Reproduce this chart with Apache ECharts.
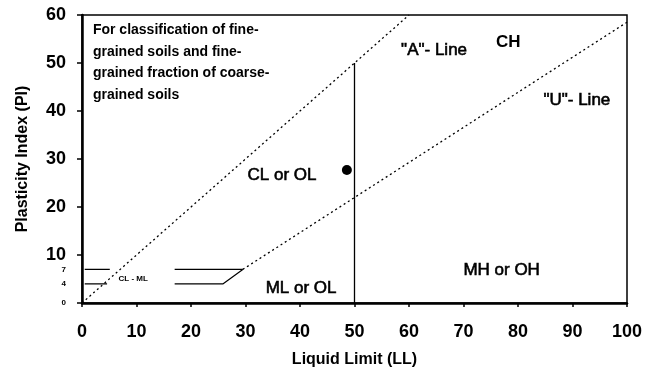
<!DOCTYPE html>
<html>
<head>
<meta charset="utf-8">
<script src="https://cdn.jsdelivr.net/npm/echarts@6/dist/echarts.min.js"></script>
<style>
  html, body { margin: 0; padding: 0; background: #fff; }
  #chart { width: 651px; height: 385px; }
</style>
</head>
<body>
<div id="chart"></div>
<script>
// plasticity chart - lines
var aLine = [[0, 0], [60, 60]];
var uLine = [[29.5, 7], [100, 58.5]];
var llBoundary = [[50, 0], [50, 50]];
var clmlSegments = [
  [[0.5, 7], [5.1, 7]],
  [[0.5, 4], [4.6, 4]],
  [[17, 7], [29.5, 7]],
  [[17, 4], [25.9, 4], [29.5, 7]]
];
var points = [[48.6, 27.7]];
var yTickLabels = [0, 4, 7, 10, 20, 30, 40, 50, 60];
var zoneLabels = [
  [2, 50.1, 'For classification of fine-\ngrained soils and fine-\ngrained fraction of coarse-\ngrained soils', 'note'],
  [64.6, 52.7, '"A"- Line', 'big'],
  [78.2, 54.4, 'CH', 'bold'],
  [90.8, 42.3, '"U"- Line', 'big'],
  [36.7, 26.7, 'CL or OL', 'big'],
  [40.2, 3.1, 'ML or OL', 'big'],
  [77, 6.9, 'MH or OH', 'big'],
  [9.4, 5.0, 'CL - ML', 'tiny']
];

var FONT = '"Liberation Sans", Arial, sans-serif';
var chart = echarts.init(document.getElementById('chart'));

var series = [
  {
    type: 'line', data: aLine, symbol: 'none', silent: true,
    lineStyle: { color: '#000', width: 1.3, type: [2, 3] }
  },
  {
    type: 'line', data: uLine, symbol: 'none', silent: true,
    lineStyle: { color: '#000', width: 1.3, type: [2, 3] }
  },
  {
    type: 'line', data: llBoundary, symbol: 'none', silent: true,
    lineStyle: { color: '#000', width: 1.3 }
  }
];
clmlSegments.forEach(function (seg) {
  series.push({
    type: 'line', data: seg, symbol: 'none', silent: true,
    lineStyle: { color: '#000', width: 1.2 }
  });
});
series.push({
  type: 'scatter', data: points, symbolSize: 10,
  itemStyle: { color: '#000', opacity: 1 }
});
series.push({
  type: 'scatter', symbolSize: 0, silent: true,
  itemStyle: { opacity: 1 },
  data: zoneLabels.map(function (z) {
    var kind = z[3];
    var lbl = {
      show: true, position: 'inside', color: '#000', opacity: 1, fontFamily: FONT,
      formatter: z[2]
    };
    if (kind === 'note') {
      lbl.align = 'left'; lbl.fontSize = 14; lbl.fontWeight = 'bold'; lbl.lineHeight = 21.7;
    } else if (kind === 'tiny') {
      lbl.fontSize = 8; lbl.fontWeight = 'bold';
    } else if (kind === 'bold') {
      lbl.fontSize = 17; lbl.fontWeight = 'bold';
    } else {
      lbl.fontSize = 17;
      lbl.textBorderColor = '#000'; lbl.textBorderWidth = 0.6;
    }
    return { value: [z[0], z[1]], label: lbl };
  })
});

var option = {
  animation: false,
  backgroundColor: '#fff',
  grid: {
    left: 82, right: 24, top: 15, bottom: 82,
    show: true, borderColor: '#000', borderWidth: 1.5
  },
  xAxis: {
    type: 'value', min: 0, max: 100, interval: 10,
    name: 'Liquid Limit (LL)', nameLocation: 'middle', nameGap: 49,
    nameTextStyle: { fontFamily: FONT, fontSize: 16, fontWeight: 'bold', color: '#000' },
    axisLine: { lineStyle: { color: '#000', width: 2.5 } },
    axisTick: { show: true, length: 4, lineStyle: { color: '#000', width: 1.5 } },
    axisLabel: { fontFamily: FONT, fontSize: 18, fontWeight: 'bold', color: '#000', margin: 20 },
    splitLine: { show: false }
  },
  yAxis: [
    {
      type: 'value', min: 0, max: 60, interval: 1,
      name: 'Plasticity Index (PI)', nameLocation: 'middle', nameGap: 51,
      nameTextStyle: { fontFamily: FONT, fontSize: 16, fontWeight: 'bold', color: '#000' },
      axisLine: { lineStyle: { color: '#000', width: 2.5 } },
      axisTick: { show: false },
      axisLabel: {
        margin: 16, color: '#000', fontFamily: FONT, fontWeight: 'bold',
        formatter: function (v) {
          if (yTickLabels.indexOf(v) < 0) return '';
          return v < 10 ? '{s|' + v + '}' : '{b|' + v + '}';
        },
        rich: {
          b: { fontSize: 18, fontWeight: 'bold', fontFamily: FONT, color: '#000' },
          s: { fontSize: 8, fontWeight: 'bold', fontFamily: FONT, color: '#000' }
        }
      },
      splitLine: { show: false }
    },
    {
      type: 'value', min: 0, max: 60, interval: 10, position: 'left',
      axisLine: { show: false },
      axisTick: { show: true, length: 5, lineStyle: { color: '#000', width: 1.5 } },
      axisLabel: { show: false },
      splitLine: { show: false }
    }
  ],
  series: series
};
chart.setOption(option);
</script>
</body>
</html>
